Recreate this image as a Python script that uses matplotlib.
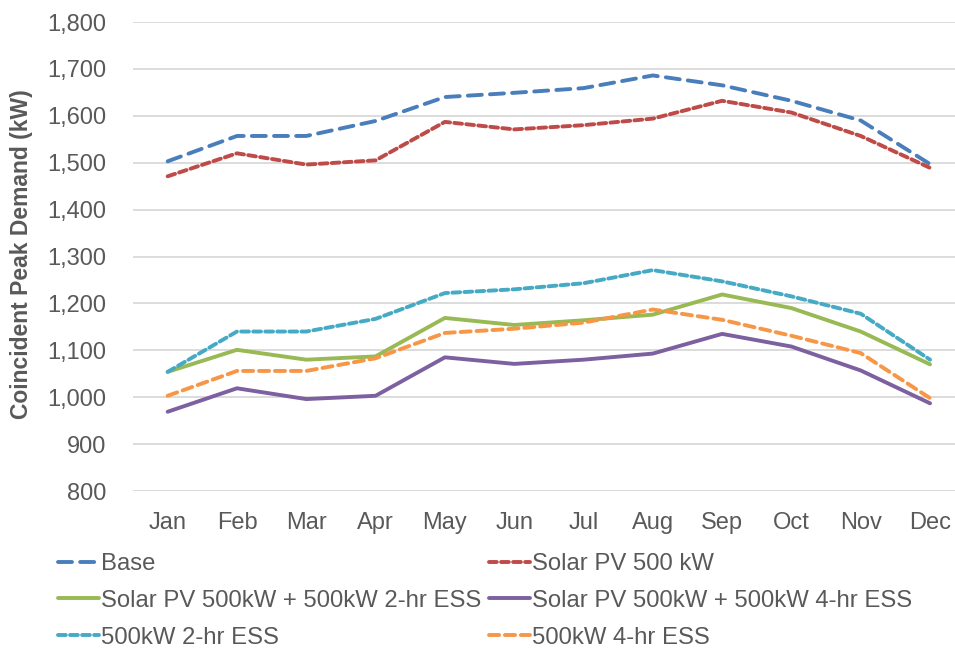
import matplotlib
matplotlib.use("Agg")
import matplotlib.pyplot as plt
from matplotlib.ticker import FuncFormatter

months = ["Jan", "Feb", "Mar", "Apr", "May", "Jun", "Jul", "Aug", "Sep", "Oct", "Nov", "Dec"]
base = [1503, 1557, 1557, 1589, 1640, 1649, 1659, 1686, 1665, 1632, 1590, 1497]
solar_pv = [1471, 1520, 1496, 1505, 1587, 1571, 1580, 1594, 1632, 1607, 1557, 1489]
pv_2hr = [1054, 1101, 1080, 1087, 1169, 1154, 1164, 1176, 1219, 1190, 1140, 1070]
pv_4hr = [969, 1019, 996, 1003, 1085, 1071, 1080, 1093, 1135, 1108, 1057, 987]
ess_2hr = [1054, 1140, 1140, 1167, 1222, 1230, 1243, 1271, 1247, 1215, 1178, 1080]
ess_4hr = [1003, 1056, 1056, 1083, 1137, 1146, 1159, 1187, 1165, 1131, 1094, 998]

labels = ["Base", "Solar PV 500 kW", "Solar PV 500kW + 500kW 2-hr ESS",
          "Solar PV 500kW + 500kW 4-hr ESS", "500kW 2-hr ESS", "500kW 4-hr ESS"]
yticks = [800, 900, 1000, 1100, 1200, 1300, 1400, 1500, 1600, 1700, 1800]

plt.rcParams['font.family'] = ['Liberation Sans', 'DejaVu Sans']
txt = '#595959'

fig = plt.figure(figsize=(9.55, 6.52), dpi=100)
W, H = 955, 652
left, right, top, bottom = 133, 955, 22, 491
ax = fig.add_axes([left / W, 1 - bottom / H, (right - left) / W, (bottom - top) / H])

x = list(range(len(months)))
lw = 2.8
lines = []
lines += ax.plot(x, base, color='#4A7EBB', lw=lw, dashes=(3.6, 2.1), label=labels[0], dash_capstyle='round')
lines += ax.plot(x, solar_pv, color='#BE4B48', lw=lw, dashes=(2.0, 1.1), label=labels[1], dash_capstyle='round')
lines += ax.plot(x, pv_2hr, color='#98B954', lw=lw, label=labels[2], solid_capstyle='round')
lines += ax.plot(x, pv_4hr, color='#7D60A0', lw=lw, label=labels[3], solid_capstyle='round')
lines += ax.plot(x, ess_2hr, color='#46AAC5', lw=lw, dashes=(2.0, 1.1), label=labels[4], dash_capstyle='round')
lines += ax.plot(x, ess_4hr, color='#F79646', lw=lw, dashes=(2.6, 1.5), label=labels[5], dash_capstyle='round')

ax.set_xlim(-0.5, 11 + (955 - 930) / 69.4)
ax.set_ylim(800, 1800)
ax.set_yticks(yticks)
ax.yaxis.set_major_formatter(FuncFormatter(lambda v, p: f"{int(v):,}"))
ax.set_xticks(x)
ax.set_xticklabels(months)
ax.grid(axis='y', color='#D9D9D9', lw=1.3)
ax.set_axisbelow(True)
for s in ax.spines.values():
    s.set_visible(False)
ax.tick_params(axis='both', length=0, labelsize=17, colors=txt)
ax.tick_params(axis='y', pad=19)
ax.tick_params(axis='x', pad=15)

fig.text(22 / W, 1 - 254 / H, "Coincident Peak Demand (kW)", rotation=90, ha='center', va='center',
         fontsize=16.5, fontweight='bold', color=txt)

order = [0, 2, 4, 1, 3, 5]
leg = fig.legend([lines[i] for i in order], [labels[i] for i in order],
                 loc='upper left', bbox_to_anchor=(58 / W, 1 - 553 / H), ncol=2, frameon=False,
                 fontsize=17.2, handlelength=1.7, handletextpad=0.12, columnspacing=0.3,
                 labelspacing=0.62, borderpad=0, borderaxespad=0)
for t in leg.get_texts():
    t.set_color(txt)

fig.savefig("out.png", dpi=100)
